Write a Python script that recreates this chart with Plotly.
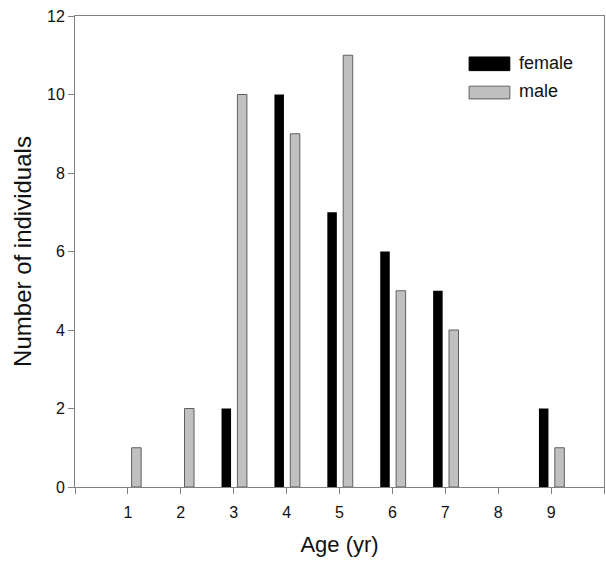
import plotly.graph_objects as go

# Age classes (years) and counts of individuals per sex
ages = [1, 2, 3, 4, 5, 6, 7, 8, 9]
female = [0, 0, 2, 10, 7, 6, 5, 0, 2]
male = [1, 2, 10, 9, 11, 5, 4, 0, 1]

x_ticks = [0, 1, 2, 3, 4, 5, 6, 7, 8, 9, 10]
x_tick_labels = ["", "1", "2", "3", "4", "5", "6", "7", "8", "9", ""]
y_ticks = [0, 2, 4, 6, 8, 10, 12]

FONT = "Liberation Sans, Arial, sans-serif"
AXIS_GRAY = "#808080"

fig = go.Figure()
fig.add_trace(go.Bar(
    x=ages, y=female, name="female",
    width=0.18, offset=-0.23,
    marker=dict(color="#000000", line=dict(width=0)),
    showlegend=False,
))
# empty classes get no outline so nothing is drawn there
fig.add_trace(go.Bar(
    x=ages, y=male, name="male",
    width=0.18, offset=0.07,
    marker=dict(color="#c0c0c0",
                line=dict(color="#5f5f5f", width=[1 if v > 0 else 0 for v in male])),
    showlegend=False,
))

# Legend drawn as swatches + labels in the upper right of the plot area
legend_items = [("female", "#000000", "#000000", 0.913, 0.884, 0.901),
                ("male", "#c0c0c0", "#5f5f5f", 0.851, 0.824, 0.840)]
shapes = []
annotations = []
for label, fill, edge, y0, y1, yt in legend_items:
    shapes.append(dict(type="rect", xref="paper", yref="paper",
                       x0=0.745, x1=0.822, y0=y1, y1=y0,
                       fillcolor=fill, line=dict(color=edge, width=1)))
    annotations.append(dict(xref="paper", yref="paper", x=0.836, y=yt,
                            text=label, showarrow=False, xanchor="left",
                            yanchor="middle",
                            font=dict(family=FONT, size=18, color="#111111")))

fig.update_layout(
    width=606, height=562,
    margin=dict(l=75, r=2, t=16, b=75),
    plot_bgcolor="white", paper_bgcolor="white",
    barmode="overlay",
    font=dict(family=FONT, color="#111111"),
    shapes=shapes,
    annotations=annotations,
    xaxis=dict(
        range=[0, 10], tickmode="array", tickvals=x_ticks, ticktext=x_tick_labels,
        ticks="outside", ticklen=6, tickcolor=AXIS_GRAY, tickwidth=1,
        ticklabelstandoff=5,
        showline=True, linecolor=AXIS_GRAY, linewidth=1, mirror=True,
        showgrid=False, zeroline=False,
        tickfont=dict(family=FONT, size=16, color="#111111"),
        title=dict(text="Age (yr)", standoff=16,
                   font=dict(family=FONT, size=22, color="#111111")),
        automargin=False,
    ),
    yaxis=dict(
        range=[0, 12], tickmode="array", tickvals=y_ticks,
        ticks="outside", ticklen=6, tickcolor=AXIS_GRAY, tickwidth=1,
        showline=True, linecolor=AXIS_GRAY, linewidth=1, mirror=True,
        showgrid=False, zeroline=False,
        tickfont=dict(family=FONT, size=16, color="#111111"),
        title=dict(text="Number of individuals", standoff=8,
                   font=dict(family=FONT, size=24, color="#111111")),
        automargin=False,
    ),
)

fig.write_html("out.html")
